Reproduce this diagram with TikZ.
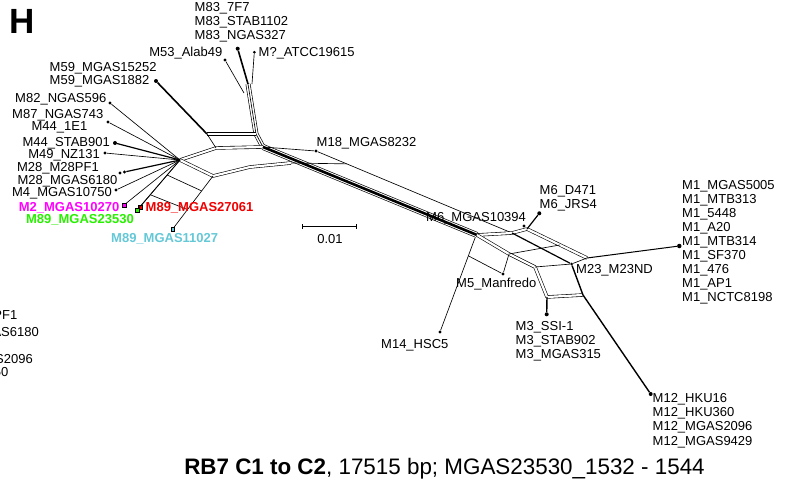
\documentclass[tikz,border=0pt]{standalone}
\usepackage{fontspec}
\setmainfont{Liberation Sans}
\usetikzlibrary{calc}
\definecolor{cmag}{RGB}{255,0,255}
\definecolor{cgrn}{RGB}{40,240,0}
\definecolor{cred}{RGB}{240,0,0}
\definecolor{ccyn}{RGB}{100,200,215}
\begin{document}
\begin{tikzpicture}[x=1pt,y=-1pt,
  ln/.style={line width=0.65pt},
  thk/.style={line width=1.6pt},
  dbl/.style={double, double distance=2.2pt, line width=0.6pt},
  stem/.style={double, double distance=3.6pt, line width=0.65pt},
  dotn/.style={circle, fill=black, inner sep=0pt, minimum size=4pt},
  cdot/.style={rectangle, draw=black, line width=0.4pt, inner sep=0pt, minimum size=3.6pt},
  lab/.style={font=\fontsize{13}{14}\selectfont, inner sep=0pt},
  blab/.style={font=\fontsize{13}{14}\selectfont\bfseries, inner sep=0pt}]
\useasboundingbox (0,0) rectangle (788,487);
\clip (0,0) rectangle (788,487);

% ---------- leaves ----------
\node[dotn] (m83) at (237.7,48.7) {};
\node[dotn, minimum size=3pt] (atcc) at (254.3,52.3) {};
\node[dotn, minimum size=3.4pt] (m53) at (225,60) {};
\node[dotn] (m59) at (156,81) {};
\node[dotn, minimum size=3.4pt] (m82) at (110,103) {};
\node[dotn, minimum size=3.4pt] (m87) at (108,122) {};
\node[dotn] (m44) at (115,143) {};
\node[dotn, minimum size=3.4pt] (m49) at (105,153) {};
\node[dotn, minimum size=3.4pt] (m28) at (120,173) {};
\node[dotn, minimum size=3.4pt] (m28b) at (124.5,172) {};
\node[dotn, minimum size=3.4pt] (m4) at (116,190) {};
\node[cdot, fill=cmag] (m2) at (124,205) {};
\node[cdot, fill=cred] (m89r) at (140,207) {};
\node[cdot, fill=cgrn] (m89g) at (137,210) {};
\node[cdot, fill=ccyn] (m89c) at (172.5,229.3) {};
\node[dotn, minimum size=3.4pt] (m18) at (316,151) {};
\node[dotn, minimum size=3.4pt] (m6a) at (524,226) {};
\node[dotn] (m6) at (539.3,213.3) {};
\node[dotn, minimum size=3.4pt] (m5) at (503,274) {};
\node[dotn, minimum size=3.4pt] (m14) at (440,332) {};
\node[dotn] (m3) at (546.7,314.3) {};
\node[dotn] (m12) at (650.7,394) {};
\node[dotn, minimum size=4.5pt] (m1) at (679.3,246) {};
\node[dotn, minimum size=3pt] (m23) at (571.5,264) {};

% ---------- junctions ----------
\coordinate (hub) at (180,160);
\coordinate (b0) at (207,134);
\coordinate (b1) at (216,148);
\coordinate (b3) at (256,134);
\coordinate (b2) at (263,147);
\coordinate (s0) at (248,84);
\coordinate (s1) at (252,84);
\coordinate (s2) at (244,93);
\coordinate (c1) at (213,176);
\coordinate (c2) at (250,167);
\coordinate (c3) at (291,163);
\coordinate (d) at (477,235);
\coordinate (e1) at (512,233);
\coordinate (e2) at (527,229);
\coordinate (f) at (587,258);
\coordinate (g0) at (509,254);
\coordinate (g1) at (535,267);
\coordinate (g2) at (547,297);
\coordinate (g3) at (583,295);
\coordinate (ld) at (475,238);
\coordinate (r1) at ($(m18)!0.157!(e1)$);
\coordinate (rr) at ($(e2)!0.55!(f)$);
\coordinate (k1) at ($(ld)!0.19!(m14)$);
\coordinate (la1) at ($(hub)!0.32!(m89r)$);
\coordinate (la2) at ($(hub)!0.74!(m89r)$);
\coordinate (lb1) at ($(c1)!0.28!(m89c)$);
\coordinate (lb2) at ($(c1)!0.63!(m89c)$);

% ---------- network ----------
\draw[stem, line join=round] (s0) -- (b3) -- (b2);
\draw[ln, line join=round] (s0) -- (b3) -- (b2);
\draw[dbl] (b0) -- (b3);
\draw[dbl, line join=round] (hub) -- (b1) -- (b2);
\draw[dbl, line join=round] (hub) -- (c1) -- (c2) -- (c3);
\draw[double, double distance=4.6pt, line width=0.65pt] (b2) -- (d);
\draw[line width=2.6pt] (b2) -- (d);
\draw[ln] (b0) -- (b1);
\draw[thk] (m59) -- (b0);
\draw[thk] (m83) -- (s0);
\draw[ln] (atcc) -- (s1);
\draw[ln] (m53) -- (s2);
\draw[ln] (c3) -- (r1);
\draw[ln] (b2) -- (m18);
\draw[ln] (m18) -- (e1);

\draw[ln] (m82) -- (hub);
\draw[ln] (m87) -- (hub);
\draw[thk, line width=1.2pt] (m44) -- (hub);
\draw[ln] (m49) -- (hub);
\draw[thk, line width=1.2pt] (m28b) -- (hub);
\draw[ln] (m4) -- (hub);
\draw[ln] (m2) -- (hub);
\draw[ln] (m89r) -- (hub);
\draw[ln] (m89g) -- (hub);
\draw[ln] (m89c) -- (c1);
\draw[ln] (la1) -- (lb1);
\draw[ln] (la2) -- (lb2);

\draw[dbl, line join=round] (d) -- (e1) -- (e2);
\draw[dbl] (e2) -- (f);
\draw[dbl, line join=round] (d) -- (g0) -- (g1) -- (g2) -- (g3);
\draw[thk, line width=1.2pt] (e2) -- (m6);
\draw[thk, line width=1.2pt] (e1) -- (m23);
\draw[ln] (m23) -- (f);
\draw[line width=1pt] (f) -- (m1);
\draw[ln] (g1) -- (m23);
\draw[thk, line width=1.4pt, line join=round] (m23) -- (g3) -- (m12);
\draw[thk, line width=1.4pt] (g2) -- (m3);
\draw[ln] (g0) -- (rr);
\draw[ln] (ld) -- (m14);
\draw[ln] (k1) -- (m5);
\draw[ln] (g0) -- (m5);

% ---------- labels ----------
\node[lab, anchor=base west] (l83a) at (194.5,11.7) {M83\_7F7};
\node[lab, anchor=base west] (l83b) at (194.5,25.7) {M83\_STAB1102};
\node[lab, anchor=base west] (l83c) at (194.5,39.7) {M83\_NGAS327};
\node[lab, anchor=base west] (latcc) at (258.5,57) {M?\_ATCC19615};
\node[lab, anchor=base east] (l53) at (222.5,57) {M53\_Alab49};
\node[lab, anchor=base west] (l59a) at (49.5,71.4) {M59\_MGAS15252};
\node[lab, anchor=base west] (l59b) at (49.5,84.4) {M59\_MGAS1882};
\node[lab, anchor=base east] (l82) at (106.5,102.4) {M82\_NGAS596};
\node[lab, anchor=base east] (l87) at (103.5,118) {M87\_NGAS743};
\node[lab, anchor=base east] (l44a) at (87.5,130.4) {M44\_1E1};
\node[lab, anchor=base east] (l44b) at (110,146.4) {M44\_STAB901};
\node[lab, anchor=base east] (l49) at (100,158) {M49\_NZ131};
\node[lab, anchor=base east] (l28a) at (99,171.4) {M28\_M28PF1};
\node[lab, anchor=base east] (l28b) at (117.5,184.9) {M28\_MGAS6180};
\node[lab, anchor=base east] (l4) at (112,196) {M4\_MGAS10750};
\node[blab, anchor=base east, text=cmag] (l2) at (119.5,211.4) {M2\_MGAS10270};
\node[blab, anchor=base east, text=cgrn] (l89g) at (134,223) {M89\_MGAS23530};
\node[blab, anchor=base west, text=cred] (l89r) at (145.5,211.7) {M89\_MGAS27061};
\node[blab, anchor=base west, text=ccyn] (l89c) at (111,242.7) {M89\_MGAS11027};
\node[lab, anchor=base west] (l18) at (316.5,146.4) {M18\_MGAS8232};
\node[lab, anchor=base west] (l6a) at (539.5,194.7) {M6\_D471};
\node[lab, anchor=base west] (l6b) at (539.5,208) {M6\_JRS4};
\node[lab, anchor=base west] (l6c) at (426,221.4) {M6\_MGAS10394};
\node[lab, anchor=base west] (l23) at (576,273.7) {M23\_M23ND};
\foreach \t [count=\i] in {M1\_MGAS5005,M1\_MTB313,M1\_5448,M1\_A20,M1\_MTB314,M1\_SF370,M1\_476,M1\_AP1,M1\_NCTC8198}
  {\node[lab, anchor=base west] (l1\i) at (682,{189.7+13.96*(\i-1)}) {\t};}
\node[lab, anchor=base west] (l5) at (456,287.4) {M5\_Manfredo};
\node[lab, anchor=base west] (l14) at (381,348) {M14\_HSC5};
\node[lab, anchor=base west] (l3a) at (515.5,330.7) {M3\_SSI-1};
\node[lab, anchor=base west] (l3b) at (515.5,344.7) {M3\_STAB902};
\node[lab, anchor=base west] (l3c) at (515.5,358.7) {M3\_MGAS315};
\node[lab, anchor=base west] (l12a) at (652.5,402.4) {M12\_HKU16};
\node[lab, anchor=base west] (l12b) at (652.5,416.4) {M12\_HKU360};
\node[lab, anchor=base west] (l12c) at (652.5,430.4) {M12\_MGAS2096};
\node[lab, anchor=base west] (l12d) at (652.5,445) {M12\_MGAS9429};

% clipped fragments of the neighbouring panel
\node[lab, anchor=base east] (fr1) at (17.5,319.7) {M28\_M28PF1};
\node[lab, anchor=base east] (fr2) at (39,336.4) {M28\_MGAS6180};
\node[lab, anchor=base east] (fr3) at (33,363.7) {M12\_MGAS2096};
\node[lab, anchor=base east] (fr4) at (8.5,376.4) {M4\_MGAS10750};

% scale bar
\coordinate (sb1) at (302.7,226.7);
\coordinate (sb2) at (356.7,226.7);
\draw[ln] (sb1) -- (sb2);
\draw[ln] ($(sb1)+(0,-2.5)$) -- ($(sb1)+(0,2.5)$);
\draw[ln] ($(sb2)+(0,-2.5)$) -- ($(sb2)+(0,2.5)$);
\node[lab, anchor=base] (sbl) at (330,243) {0.01};

% title and panel letter
\node[anchor=base, inner sep=0pt, font=\fontsize{22.4}{26}\selectfont] (title) at (444.5,474) {\textbf{RB7 C1 to C2}, 17515 bp; MGAS23530\_1532 - 1544};
\node[anchor=base west, inner sep=0pt, font=\fontsize{35}{40}\selectfont\bfseries] (H) at (9,33.3) {H};
\end{tikzpicture}
\end{document}
